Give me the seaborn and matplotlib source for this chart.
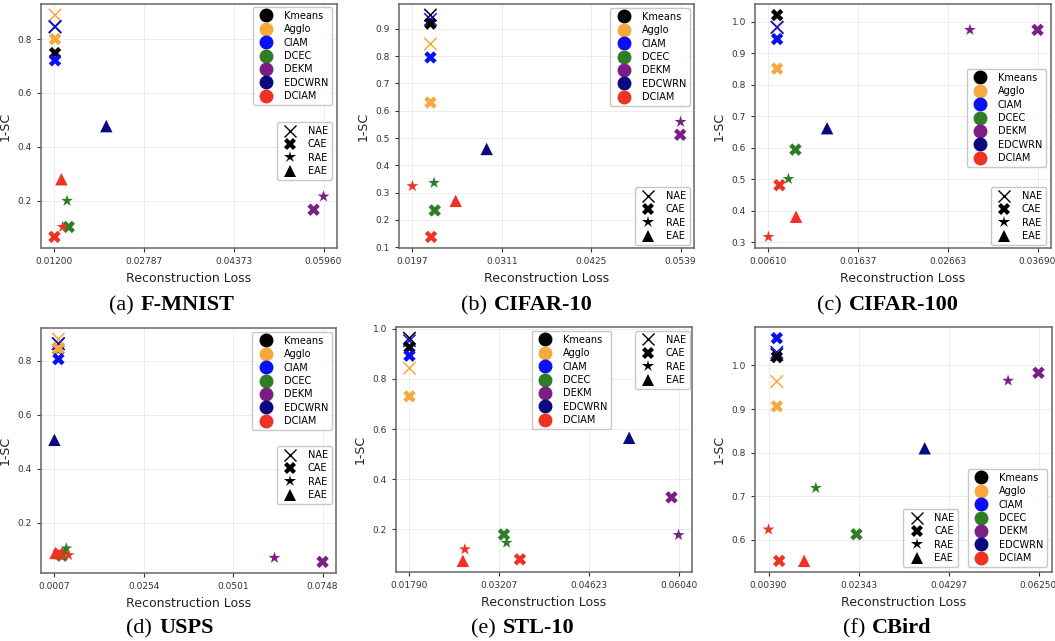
# cargar librerias
import numpy as np
import pandas as pd
import seaborn as sns
import matplotlib.pyplot as plt
from matplotlib.lines import Line2D
from matplotlib.offsetbox import TextArea, HPacker, AnchoredOffsetbox

# metodos, colores y tipos de autoencoder
methods = ['Kmeans', 'Agglo', 'CIAM', 'DCEC', 'DEKM', 'EDCWRN', 'DCIAM']
method_colors = ['#000000', '#F5A93F', '#0A10F5', '#2F7D27', '#7B1F86', '#0A0A7E', '#EE3224']
ae_types = ['NAE', 'CAE', 'RAE', 'EAE']
ae_markers = ['x', 'X', '*', '^']

# orden de los puntos (igual en todos los datasets)
point_method = ['Kmeans', 'Kmeans', 'Agglo', 'Agglo', 'CIAM', 'CIAM', 'DCEC', 'DCEC',
                'DEKM', 'DEKM', 'EDCWRN', 'DCIAM', 'DCIAM', 'DCIAM']
point_ae = ['NAE', 'CAE', 'NAE', 'CAE', 'NAE', 'CAE', 'CAE', 'RAE',
            'CAE', 'RAE', 'EAE', 'CAE', 'RAE', 'EAE']

# datos
fmnist_loss = [0.01210, 0.01210, 0.01210, 0.01210, 0.01210, 0.01210, 0.01453, 0.01423,
               0.05784, 0.05960, 0.02117, 0.01200, 0.01347, 0.01323]
fmnist_sc = [0.845, 0.748, 0.889, 0.800, 0.847, 0.721, 0.103, 0.200,
             0.167, 0.216, 0.477, 0.066, 0.103, 0.280]

cifar10_loss = [0.0220, 0.0220, 0.0220, 0.0220, 0.0220, 0.0220, 0.02255, 0.02246,
                0.05385, 0.0539, 0.02917, 0.02208, 0.0197, 0.02522]
cifar10_sc = [0.950, 0.919, 0.844, 0.630, 0.934, 0.795, 0.235, 0.336,
              0.512, 0.559, 0.460, 0.138, 0.324, 0.270]

cifar100_loss = [0.00709, 0.00709, 0.00709, 0.00709, 0.00709, 0.00709, 0.00919, 0.00839,
                 0.0369, 0.02916, 0.01281, 0.00736, 0.0061, 0.00926]
cifar100_sc = [0.982, 1.021, 0.984, 0.851, 0.982, 0.945, 0.594, 0.501,
               0.974, 0.974, 0.662, 0.481, 0.317, 0.381]

usps_loss = [0.0018, 0.0018, 0.0018, 0.0018, 0.0018, 0.0018, 0.0028, 0.0040,
             0.0748, 0.0615, 0.0007, 0.0020, 0.0046, 0.0010]
usps_sc = [0.863, 0.842, 0.880, 0.844, 0.863, 0.806, 0.078, 0.105,
           0.055, 0.070, 0.507, 0.085, 0.080, 0.088]

stl10_loss = [0.0179, 0.0179, 0.0179, 0.0179, 0.0179, 0.0179, 0.03282, 0.03324,
              0.05929, 0.0604, 0.0526, 0.03535, 0.02665, 0.02634]
stl10_sc = [0.962, 0.925, 0.842, 0.730, 0.952, 0.892, 0.180, 0.147,
            0.328, 0.178, 0.565, 0.081, 0.121, 0.075]

cbird_loss = [0.00571, 0.00571, 0.00571, 0.00571, 0.00571, 0.00571, 0.0230, 0.01417,
              0.0625, 0.0559, 0.0378, 0.00622, 0.0039, 0.01164]
cbird_sc = [1.025, 1.019, 0.963, 0.906, 1.030, 1.0625, 0.613, 0.719,
            0.983, 0.965, 0.810, 0.552, 0.624, 0.552]

# ticks del eje y
fmnist_yticks = [0.2, 0.4, 0.6, 0.8]
cifar10_yticks = [0.1, 0.2, 0.3, 0.4, 0.5, 0.6, 0.7, 0.8, 0.9]
cifar100_yticks = [0.3, 0.4, 0.5, 0.6, 0.7, 0.8, 0.9, 1.0]
usps_yticks = [0.2, 0.4, 0.6, 0.8]
stl10_yticks = [0.2, 0.4, 0.6, 0.8, 1.0]
cbird_yticks = [0.6, 0.7, 0.8, 0.9, 1.0]

palette = dict(zip(methods, method_colors))


def dibujar_panel(ax, loss, sc, yticks, decimales, leg_color, leg_marker):
    df = pd.DataFrame({'method': point_method, 'ae': point_ae, 'loss': loss, 'sc': sc})
    for ae, mk in zip(ae_types, ae_markers):
        sub = df[df['ae'] == ae]
        if mk == 'x':
            sns.scatterplot(data=sub, x='loss', y='sc', hue='method', palette=palette,
                            marker=mk, s=80, linewidth=1.1, legend=False, ax=ax, zorder=3)
        else:
            sns.scatterplot(data=sub, x='loss', y='sc', hue='method', palette=palette,
                            marker=mk, s=80, linewidth=0, edgecolor='none',
                            legend=False, ax=ax, zorder=3)

    xt = np.linspace(min(loss), max(loss), 4)
    ax.set_xticks(xt)
    ax.set_xticklabels([f'{v:.{decimales}f}' for v in xt])
    ax.set_yticks(yticks)
    ax.set_yticklabels([f'{v:.1f}' for v in yticks])
    ax.set_xlabel('Reconstruction Loss', fontsize=9, color='#222222')
    ax.set_ylabel('1-SC', fontsize=9, color='#222222')
    ax.tick_params(labelsize=6.5, length=3, width=0.8, colors='#333333')
    ax.grid(True, color='#e6e6e6', linewidth=0.5)
    ax.set_axisbelow(True)
    for s in ax.spines.values():
        s.set_color('#666666')
        s.set_linewidth(1.1)

    h_color = [Line2D([], [], marker='o', ls='', color=c, markersize=9, label=m)
               for m, c in zip(methods, method_colors)]
    leg1 = ax.legend(handles=h_color, loc=leg_color[0], bbox_to_anchor=leg_color[1],
                     borderaxespad=0, fontsize=7, labelspacing=0.35, edgecolor='#bbbbbb')
    ax.add_artist(leg1)
    h_ae = [Line2D([], [], marker=mk, ls='', color='black', markersize=9,
                   markeredgewidth=1.0 if mk == 'x' else 0, label=ae)
            for ae, mk in zip(ae_types, ae_markers)]
    ax.legend(handles=h_ae, loc=leg_marker[0], bbox_to_anchor=leg_marker[1],
              borderaxespad=0, fontsize=7, labelspacing=0.35, edgecolor='#bbbbbb')


def pie_de_figura(fig, x, y, letra, nombre):
    t1 = TextArea(letra, textprops=dict(family='Liberation Serif', size=16))
    t2 = TextArea(nombre, textprops=dict(family='Liberation Serif', size=16, weight='bold'))
    caja = HPacker(children=[t1, t2], align='baseline', pad=0, sep=5)
    anc = AnchoredOffsetbox(loc='center', child=caja, pad=0, borderpad=0, frameon=False,
                            bbox_to_anchor=(x, y), bbox_transform=fig.transFigure)
    fig.add_artist(anc)


W, H = 1055, 641
fig = plt.figure(figsize=(W / 100, H / 100), dpi=100)

paneles = [
    # (izq, arriba, ancho, abajo) en pixeles, datos, leyendas, pie
    ((41, 4, 296, 248), fmnist_loss, fmnist_sc, fmnist_yticks, 5,
     ('upper right', (0.983, 0.988)), ('upper right', (0.983, 0.516)), 172, 305, '(a)', 'F-MNIST'),
    ((399, 4, 295, 248), cifar10_loss, cifar10_sc, cifar10_yticks, 4,
     ('upper right', (0.986, 0.984)), ('lower right', (0.986, 0.012)), 527, 305, '(b)', 'CIFAR-10'),
    ((755, 4, 296, 248), cifar100_loss, cifar100_sc, cifar100_yticks, 5,
     ('upper right', (0.983, 0.734)), ('lower right', (0.983, 0.012)), 888, 305, '(c)', 'CIFAR-100'),
    ((41, 328, 295, 573), usps_loss, usps_sc, usps_yticks, 4,
     ('upper right', (0.986, 0.984)), ('upper right', (0.986, 0.518)), 170, 628, '(d)', 'USPS'),
    ((396, 327, 296, 572), stl10_loss, stl10_sc, stl10_yticks, 5,
     ('upper right', (0.726, 0.984)), ('upper right', (0.993, 0.984)), 523, 628, '(e)', 'STL-10'),
    ((755, 327, 297, 572), cbird_loss, cbird_sc, cbird_yticks, 5,
     ('lower right', (0.983, 0.02)), ('lower right', (0.684, 0.02)), 887, 628, '(f)', 'CBird'),
]

for (l, t, w, b), loss, sc, yt, dec, lc, lm, cx, cy, letra, nombre in paneles:
    ax = fig.add_axes([l / W, 1 - b / H, w / W, (b - t) / H])
    dibujar_panel(ax, loss, sc, yt, dec, lc, lm)
    pie_de_figura(fig, cx / W, 1 - cy / H, letra, nombre)

fig.savefig('out.png', dpi=100)
plt.close()
